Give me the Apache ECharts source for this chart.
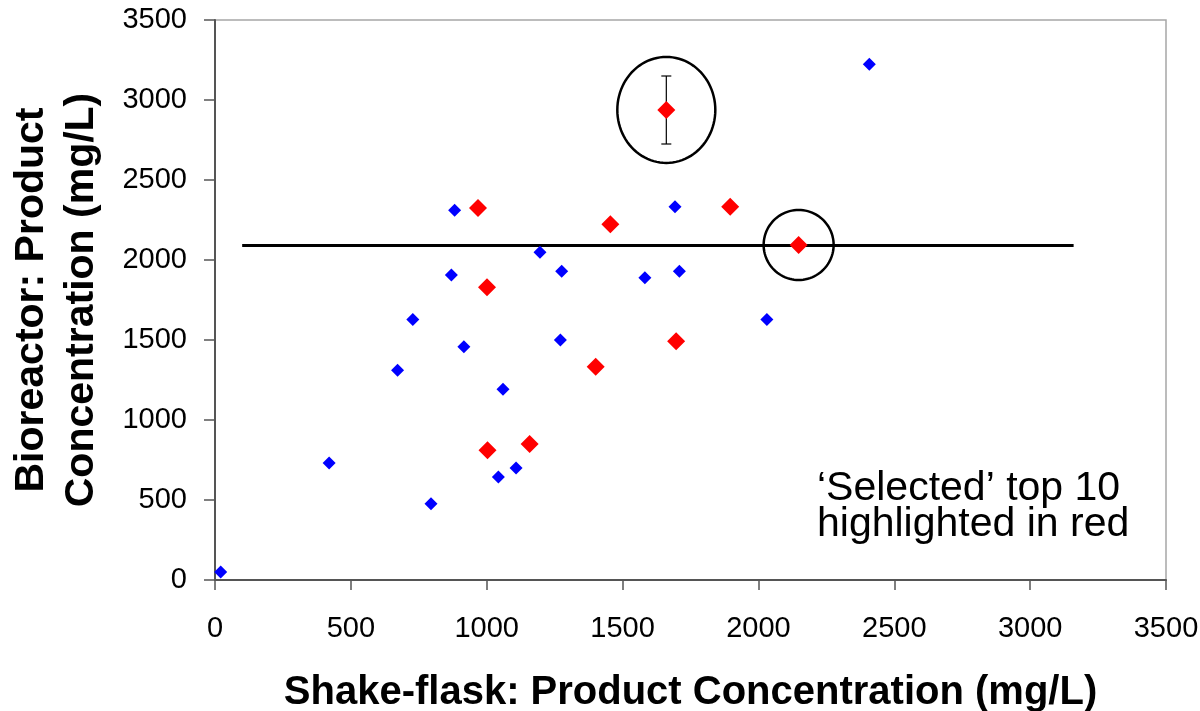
<!DOCTYPE html>
<html>
<head>
<meta charset="utf-8">
<script src="https://cdn.jsdelivr.net/npm/echarts@6/dist/echarts.min.js"></script>
<style>
  html, body { margin: 0; padding: 0; background: #fff; }
  #chart { width: 1200px; height: 711px; }
</style>
</head>
<body>
<div id="chart"></div>
<script>
// Shake-flask vs bioreactor product concentration (mg/L)
const otherFlaskX = [21, 420, 672, 728, 795, 870, 882, 916, 1043, 1060, 1108, 1196, 1271, 1276, 1582, 1693, 1709, 2031, 2408];
const otherReactorY = [50, 731, 1311, 1628, 477, 1906, 2311, 1458, 644, 1192, 700, 2048, 1500, 1929, 1889, 2333, 1929, 1628, 3223];

const selectedFlaskX = [968, 1001, 1003, 1158, 1401, 1455, 1661, 1697, 1896, 2148];
const selectedReactorY = [2325, 1829, 811, 850, 1333, 2223, 2938, 1492, 2333, 2094];

// error bar on the best bioreactor clone (index 6 of the selected set)
const errorIndex = 6;
const errorLow = 2725;
const errorHigh = 3150;

// reference level across the plot
const refLevel = 2090;
const refFrom = 100;
const refTo = 3160;

// circled clones: [index in selected set, x radius px, y radius px]
const circled = [[6, 49, 53], [9, 35, 35]];

const axisTicks = [0, 500, 1000, 1500, 2000, 2500, 3000, 3500];

const FONT = "'Liberation Sans', Arial, sans-serif";

const chart = echarts.init(document.getElementById('chart'));

const pairs = (xs, ys) => xs.map((x, i) => [x, ys[i]]);

chart.setOption({
  animation: false,
  backgroundColor: '#fff',
  grid: {
    left: 215, right: 34, top: 20, bottom: 131,
    outerBoundsMode: 'none', containLabel: false,
    show: true, borderColor: '#a6a6a6', borderWidth: 1.5, backgroundColor: 'transparent'
  },
  xAxis: {
    type: 'value', min: axisTicks[0], max: axisTicks[axisTicks.length - 1], interval: 500,
    name: 'Shake-flask: Product Concentration (mg/L)',
    nameLocation: 'middle', nameGap: 93,
    nameTextStyle: { fontFamily: FONT, fontSize: 40, fontWeight: 'bold', color: '#000' },
    axisLine: { show: true, onZero: false, lineStyle: { color: '#555', width: 2 } },
    axisTick: { show: true, inside: false, length: 10, lineStyle: { color: '#555', width: 1.5 } },
    axisLabel: { fontFamily: FONT, fontSize: 29, color: '#000', margin: 34, formatter: v => String(v) },
    splitLine: { show: false }
  },
  yAxis: {
    type: 'value', min: axisTicks[0], max: axisTicks[axisTicks.length - 1], interval: 500,
    name: 'Bioreactor: Product\nConcentration (mg/L)',
    nameLocation: 'middle', nameGap: 108, nameRotate: 90,
    nameTextStyle: { fontFamily: FONT, fontSize: 41, fontWeight: 'bold', color: '#000', lineHeight: 50 },
    axisLine: { show: true, onZero: false, lineStyle: { color: '#555', width: 2 } },
    axisTick: { show: true, inside: false, length: 11, lineStyle: { color: '#555', width: 1.5 } },
    axisLabel: { fontFamily: FONT, fontSize: 29, color: '#000', margin: 28, formatter: v => String(v) },
    splitLine: { show: false }
  },
  series: [
    {
      type: 'line',
      data: [[refFrom, refLevel], [refTo, refLevel]],
      symbol: 'none',
      lineStyle: { color: '#000', width: 3 },
      z: 2, silent: true
    },
    {
      type: 'custom',
      data: [[selectedFlaskX[errorIndex], errorLow, errorHigh]],
      renderItem: function (params, api) {
        const top = api.coord([api.value(0), api.value(2)]);
        const bot = api.coord([api.value(0), api.value(1)]);
        const cap = 5;
        const st = { stroke: '#000', lineWidth: 1.2 };
        return {
          type: 'group',
          children: [
            { type: 'line', shape: { x1: top[0], y1: top[1], x2: bot[0], y2: bot[1] }, style: st },
            { type: 'line', shape: { x1: top[0] - cap, y1: top[1], x2: top[0] + cap, y2: top[1] }, style: st },
            { type: 'line', shape: { x1: bot[0] - cap, y1: bot[1], x2: bot[0] + cap, y2: bot[1] }, style: st }
          ]
        };
      },
      z: 3, silent: true
    },
    {
      type: 'scatter',
      data: pairs(otherFlaskX, otherReactorY),
      symbol: 'diamond', symbolSize: 13,
      itemStyle: { color: '#0000ff', opacity: 1 },
      z: 4
    },
    {
      type: 'scatter',
      data: pairs(selectedFlaskX, selectedReactorY),
      symbol: 'diamond', symbolSize: 18,
      itemStyle: { color: '#ff0000', opacity: 1 },
      z: 5
    },
    {
      type: 'custom',
      data: circled.map(c => [selectedFlaskX[c[0]], selectedReactorY[c[0]], c[1], c[2]]),
      renderItem: function (params, api) {
        const c = api.coord([api.value(0), api.value(1)]);
        const rx = api.value(2), ry = api.value(3);
        const pts = [];
        for (let k = 0; k < 96; k++) {
          const a = (k / 96) * Math.PI * 2;
          pts.push([c[0] + rx * Math.cos(a), c[1] + ry * Math.sin(a)]);
        }
        return {
          type: 'polygon',
          shape: { points: pts },
          style: { fill: 'none', stroke: '#000', lineWidth: 2.5 }
        };
      },
      z: 6, silent: true
    }
  ],
  graphic: [
    {
      type: 'text',
      left: 970 - 153, top: 468,
      style: {
        text: '\u2018Selected\u2019 top 10\nhighlighted in red',
        font: '41px ' + FONT,
        fill: '#000',
        align: 'center',
        lineHeight: 36,
        width: 306
      }
    }
  ]
});
</script>
</body>
</html>
